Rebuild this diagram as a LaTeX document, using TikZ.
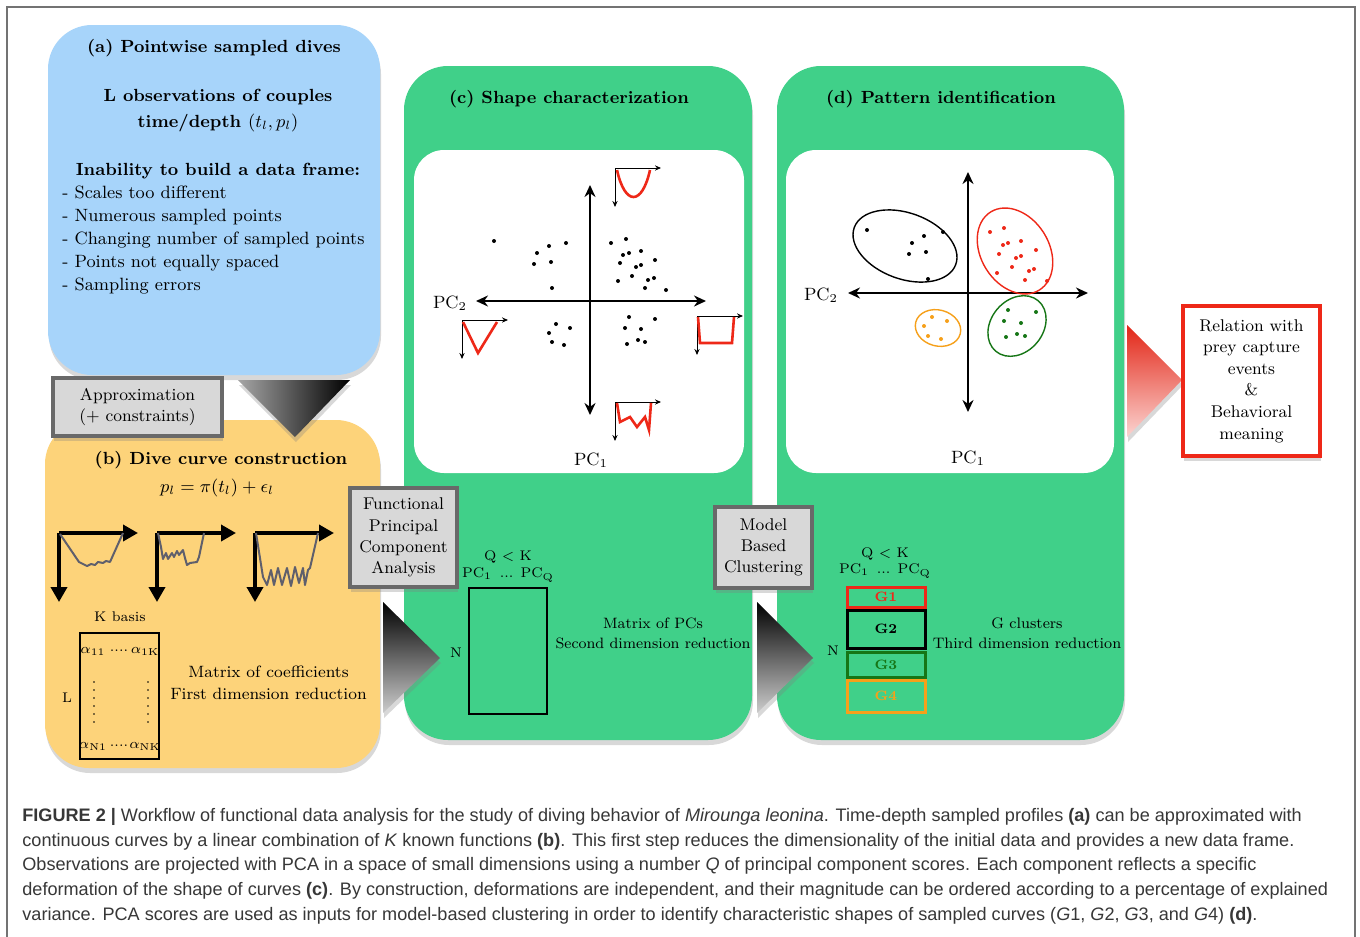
\documentclass[tikz,border=0pt]{standalone}
\usepackage{amsmath}
\usepackage{fontspec}
\newfontfamily\capfont{Liberation Sans}
\usetikzlibrary{arrows.meta,shadows,positioning}
\definecolor{panelblue}{RGB}{167,212,250}
\definecolor{panelorange}{RGB}{253,211,122}
\definecolor{panelgreen}{RGB}{64,208,137}
\definecolor{boxgray}{RGB}{216,216,216}
\definecolor{boxedge}{RGB}{105,105,105}
\definecolor{curvegray}{RGB}{95,95,108}
\definecolor{clred}{RGB}{238,40,24}
\definecolor{cldarkgreen}{RGB}{22,118,22}
\definecolor{clorange}{RGB}{246,160,26}
\definecolor{captext}{RGB}{55,55,55}

\begin{document}
\begin{tikzpicture}[x=0.5pt,y=-0.5pt,
    txt/.style={inner sep=0pt,font=\fontsize{8.9}{11}\selectfont},
    ttl/.style={inner sep=0pt,font=\fontsize{8.8}{11}\selectfont\bfseries},
    smalltxt/.style={inner sep=0pt,font=\fontsize{7}{9}\selectfont},
    shadowed/.style={drop shadow={shadow xshift=0.5pt,shadow yshift=-2.5pt,opacity=.3}},
    panel/.style={shadowed,rounded corners=22pt},
    stepbox/.style={shadowed,fill=boxgray,draw=boxedge,line width=1.7pt,align=center,
      font=\fontsize{8.5}{10.6}\selectfont,inner sep=0pt},
    iconaxis/.style={line width=1.8pt,-{Triangle[length=7.5pt,width=8pt]}},
    pcaxis/.style={line width=1.4pt,{Stealth[length=6pt,width=5.5pt]}-{Stealth[length=6pt,width=5.5pt]}},
    shapeaxis/.style={line width=0.5pt,-{Stealth[length=3pt,width=2.6pt]}},
    shapecurve/.style={clred,line width=1.3pt},
    divecurve/.style={curvegray,line width=1pt,line join=round},
    gbox/.style={line width=1.5pt,minimum width=39pt,inner sep=0pt,font=\fontsize{6.8}{8}\selectfont\bfseries}]
  \useasboundingbox (0,0) rectangle (1360,937);
  \fill[white] (0,0) rectangle (1360,937);
  \draw[black!55,line width=0.6pt] (7,937) -- (7,7) -- (1355,7) -- (1355,937);

  % panels
  \path[panel,fill=panelblue] (48,25) rectangle (380,375);
  \path[panel,fill=panelorange] (45,420) rectangle (380,768);
  \path[panel,fill=panelgreen] (404,66) rectangle (752,740);
  \path[panel,fill=panelgreen] (777,66) rectangle (1124,740);
  \path[fill=white,rounded corners=15pt] (414,150) rectangle (744,473);
  \path[fill=white,rounded corners=15pt] (786,150) rectangle (1114,473);

  % transitions
  \shade[shadowed,left color=black!35,right color=black] (238,380) -- (350,380) -- (295,437) -- cycle;
  \shade[shadowed,top color=black,bottom color=black!20] (383,602) -- (440,658) -- (383,713) -- cycle;
  \shade[shadowed,top color=black,bottom color=black!20] (757,602) -- (813,658) -- (757,713) -- cycle;
  \shade[shadowed,top color=clred!95!black,bottom color=clred!20] (1127,325) -- (1182,380) -- (1127,437) -- cycle;

  \node[stepbox,minimum width=84.5pt,minimum height=29pt] (approx) at (137.5,407) {Approximation\\(+ constraints)};
  \node[stepbox,minimum width=53.5pt,minimum height=49.5pt] (fpca) at (403.5,537.5) {Functional\\Principal\\Component\\Analysis};
  \node[stepbox,minimum width=48.5pt,minimum height=40.5pt] (mbc) at (763.5,547.5) {Model\\Based\\Clustering};
  \node[shadowed,draw=clred,fill=white,line width=1.6pt,minimum width=68.5pt,minimum height=75pt,
    align=center,font=\fontsize{8.5}{10.8}\selectfont,inner sep=0pt] (relation) at (1251.5,381)
    {Relation with\\prey capture\\events\\\&\\Behavioral\\meaning};

  % (a)
  \node[ttl,anchor=base] (titlea) at (214,53) {(a) Pointwise sampled dives};
  \node[ttl,anchor=base] (obs) at (218,101) {L observations of couples};
  \node[ttl,anchor=base] (timedepth) at (218,127) {time/depth $(t_l,p_l)$};
  \node[ttl,anchor=base] (inability) at (218,175) {Inability to build a data frame:};
  \foreach \t [count=\i] in {Scales too different, Numerous sampled points, Changing number of sampled points, Points not equally spaced, Sampling errors}
    \node[txt,anchor=base west] (issue\i) at (62,175+23*\i) {- \t};

  % (b)
  \node[ttl,anchor=base] (titleb) at (221,464) {(b) Dive curve construction};
  \node[txt,anchor=base] (model) at (217,492) {$p_l=\pi(t_l)+\epsilon_l$};
  \foreach \x in {59,157,255} {
    \draw[iconaxis] (\x,533) -- ++(79,0);
    \draw[iconaxis] (\x,533) -- ++(0,69);
  }
  \draw[divecurve] (60,534) -- (79,562) -- (87,566) -- (91,564) -- (95,565) -- (98,562) -- (103,563) -- (106,561) -- (110,562) -- (123,533);
  \draw[divecurve] (158,533) -- (161,547) -- (163,559) -- (166,553) -- (168,559) -- (172,553) -- (174,557) -- (177,551) -- (179,555) -- (183,550) -- (185,558) -- (187,565) -- (190,563) -- (197,562) -- (199,557) -- (204,533);
  \draw[divecurve] (256,533) -- (263,577) -- (267,585) -- (271,570) -- (274,585) -- (278,568) -- (282,585) -- (287,568) -- (291,586) -- (295,567) -- (299,583) -- (303,568) -- (305,585) -- (308,570) -- (310,568) -- (318,533);
  \node[smalltxt,anchor=base] (kbasis) at (120,621) {K basis};
  \draw[line width=0.8pt] (80,633) rectangle (159,759);
  \node[smalltxt] (a11) at (93,651) {$\alpha_{11}$};
  \node[smalltxt] (a1k) at (145,651) {$\alpha_{1\mathrm{K}}$};
  \node[smalltxt] (an1) at (93,746) {$\alpha_{\mathrm{N}1}$};
  \node[smalltxt] (ank) at (145,746) {$\alpha_{\mathrm{NK}}$};
  \node[smalltxt] at (119,651) {....};
  \node[smalltxt] at (119,746) {....};
  \foreach \y in {682,690,...,722}
    \fill (94,\y) circle (0.9) (148,\y) circle (0.9);
  \node[smalltxt] (lrows) at (67,698) {L};
  \node[txt,align=center,font=\fontsize{8.2}{11}\selectfont] (coefmatrix) at (268.5,683) {Matrix of coefficients\\First dimension reduction};

  % (c)
  \node[ttl,anchor=base] (titlec) at (569,103) {(c) Shape characterization};
  \draw[pcaxis] (590,185) -- (590,415);
  \draw[pcaxis] (476,301) -- (706,301);
  \node[txt] (pc2c) at (450,303) {PC$_2$};
  \node[txt] (pc1c) at (591,460) {PC$_1$};
  \foreach \x/\y in {615/168, 462/320, 697/316, 615/402} {
    \draw[shapeaxis] (\x,\y) -- ++(46,0);
    \draw[shapeaxis] (\x,\y) -- ++(0,39);
  }
  \draw[shapecurve] (617,170) .. controls (625,206) and (642,206) .. (650,170);
  \draw[shapecurve] (463,322) -- (478,353) -- (497,322);
  \draw[shapecurve] (698,317) -- (700,343) -- (732,343) -- (734,317);
  \draw[shapecurve] (617,403) -- (620,422) -- (630,417) -- (637,427) -- (645,417) -- (649,430) -- (651,403);
  \foreach \x/\y in {494/241, 549/246, 566/243, 537/253, 534/264, 551/262, 552/288,
      611/243, 626/239, 623/255, 629/253, 641/251, 655/260, 620/263, 636/267, 641/265,
      632/276, 618/281, 648/280, 654/278, 645/288, 666/290,
      556/324, 570/328, 549/333, 552/342, 564/345,
      629/317, 655/319, 625/328, 641/329, 638/340, 627/344, 645/342}
    \fill (\x,\y) circle (2);
  \node[smalltxt] (qkc) at (508,557) {Q $<$ K};
  \node[smalltxt] (pcsc) at (508,575) {PC$_1$ \,... PC$_{\mathrm{Q}}$};
  \draw[line width=0.8pt] (469,588) rectangle (547,714);
  \node[smalltxt] (nc) at (456,653) {N};
  \node[txt,align=center,font=\fontsize{7.5}{10}\selectfont] (pcmatrix) at (653,633) {Matrix of PCs\\Second dimension reduction};

  % (d)
  \node[ttl,anchor=base] (titled) at (941,103) {(d) Pattern identification};
  \draw[pcaxis] (968,172) -- (968,412);
  \draw[pcaxis] (848,293) -- (1088,293);
  \node[txt] (pc2d) at (821,295) {PC$_2$};
  \node[txt] (pc1d) at (968,458) {PC$_1$};
  \draw[line width=0.7pt,rotate around={-20:(905,246)}] (905,246) ellipse [x radius=54,y radius=33];
  \draw[clred,line width=0.7pt,rotate around={-58:(1015,251)}] (1015,251) ellipse [x radius=46,y radius=34];
  \draw[clorange,line width=0.7pt,rotate around={-15:(938,328)}] (938,328) ellipse [x radius=23,y radius=18];
  \draw[cldarkgreen,line width=0.7pt,rotate around={50:(1017,326)}] (1017,326) ellipse [x radius=33,y radius=26];
  \foreach \x/\y in {867/230, 924/236, 943/232, 912/243, 909/254, 926/252, 928/279}
    \fill (\x,\y) circle (2);
  \foreach \x/\y in {990/232, 1004/228, 1003/245, 1008/243, 1021/241, 1036/250, 999/254, 1016/258,
      1021/256, 1012/267, 997/273, 1029/271, 1034/269, 1025/280, 1047/281}
    \fill[clred] (\x,\y) circle (2);
  \foreach \x/\y in {932/317, 947/321, 924/326, 928/336, 941/339}
    \fill[clorange] (\x,\y) circle (2);
  \foreach \x/\y in {1008/310, 1036/312, 1004/321, 1021/323, 1017/334, 1006/337, 1025/336}
    \fill[cldarkgreen] (\x,\y) circle (2);
  \node[smalltxt] (qkd) at (885,554) {Q $<$ K};
  \node[smalltxt] (pcsd) at (885,571) {PC$_1$ \,... PC$_{\mathrm{Q}}$};
  \node[gbox,draw=clred,text=clred,minimum height=10pt] (g1) at (886,597) {G1};
  \node[gbox,draw=black,minimum height=19pt] (g2) at (886,629) {G2};
  \node[gbox,draw=cldarkgreen,text=cldarkgreen,minimum height=12.5pt] (g3) at (886,664.5) {G3};
  \node[gbox,draw=clorange,text=clorange,minimum height=16pt] (g4) at (886,696) {G4};
  \node[smalltxt] (nd) at (833,651) {N};
  \node[txt,align=center,font=\fontsize{7.6}{10}\selectfont] (gclusters) at (1027,633) {G clusters\\Third dimension reduction};

  % caption
  \begin{scope}[every node/.style={anchor=base west,inner sep=0pt,text=captext,
      font=\capfont\fontsize{9.05}{11}\selectfont}]
    \node (cap1) at (22,821) {\textbf{FIGURE 2 |} Workflow of functional data analysis for the study of diving behavior of \textit{Mirounga leonina}. Time-depth sampled profiles \textbf{(a)} can be approximated with};
    \node (cap2) at (22,846) {continuous curves by a linear combination of \textit{K} known functions \textbf{(b)}. This first step reduces the dimensionality of the initial data and provides a new data frame.};
    \node (cap3) at (22,870) {Observations are projected with PCA in a space of small dimensions using a number \textit{Q} of principal component scores. Each component reflects a specific};
    \node (cap4) at (22,895) {deformation of the shape of curves \textbf{(c)}. By construction, deformations are independent, and their magnitude can be ordered according to a percentage of explained};
    \node (cap5) at (22,920) {variance. PCA scores are used as inputs for model-based clustering in order to identify characteristic shapes of sampled curves (\textit{G}1, \textit{G}2, \textit{G}3, and \textit{G}4) \textbf{(d)}.};
  \end{scope}
\end{tikzpicture}
\end{document}
